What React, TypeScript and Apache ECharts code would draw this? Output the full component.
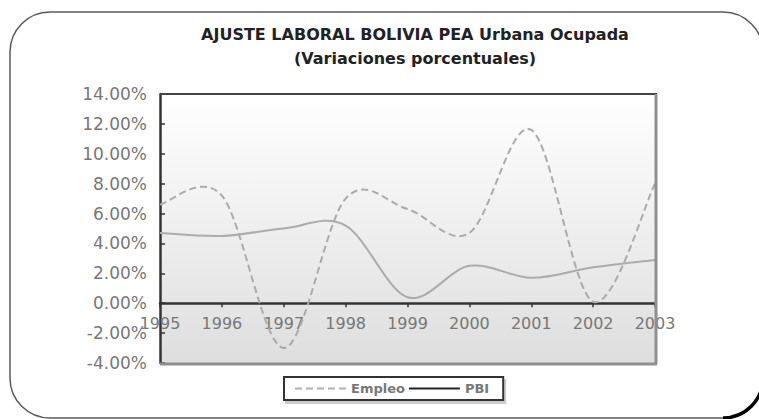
import React, { useEffect, useRef } from 'react';
import * as echarts from 'echarts';

const years = ['1995', '1996', '1997', '1998', '1999', '2000', '2001', '2002', '2003'];
const empleo = [6.6, 7.2, -3.0, 7.0, 6.3, 4.7, 11.6, 0.1, 8.0];
const pbi = [4.7, 4.5, 5.0, 5.2, 0.4, 2.5, 1.7, 2.4, 2.9];
const seriesNames = ['Empleo', 'PBI'];
const titleLines = ['AJUSTE LABORAL BOLIVIA PEA Urbana Ocupada', '(Variaciones porcentuales)'];
const yMin = -4;
const yMax = 14;
const yStep = 2;

const W = 759;
const H = 419;
const GL = 160;
const GT = 94;
const GR = 655;
const GB = 363;

// Excel-like smoothed line (Catmull-Rom as cubic Bezier) through screen points
function smoothPath(pts: number[][]): string {
  const n = pts.length;
  let d = `M${pts[0][0]},${pts[0][1]}`;
  for (let i = 0; i < n - 1; i++) {
    const p0 = pts[Math.max(i - 1, 0)];
    const p1 = pts[i];
    const p2 = pts[i + 1];
    const p3 = pts[Math.min(i + 2, n - 1)];
    const c1x = p1[0] + (p2[0] - p0[0]) / 6;
    const c1y = p1[1] + (p2[1] - p0[1]) / 6;
    const c2x = p2[0] - (p3[0] - p1[0]) / 6;
    const c2y = p2[1] - (p3[1] - p1[1]) / 6;
    d += ` C${c1x},${c1y} ${c2x},${c2y} ${p2[0]},${p2[1]}`;
  }
  return d;
}

function curveSeries(name: string, values: number[], lineStyle: any, z: number) {
  return {
    name,
    type: 'custom',
    data: values.map((v, i) => [i, v]),
    encode: { x: 0, y: 1 },
    z,
    renderItem: (params: any, api: any) => {
      if (params.dataIndex !== 0) return null;
      const pts = values.map((v, i) => api.coord([i, v]));
      return {
        type: 'path',
        shape: { pathData: smoothPath(pts) },
        style: { fill: 'none', ...lineStyle },
      };
    },
  };
}

export default function App() {
  const ref = useRef<HTMLDivElement>(null);

  useEffect(() => {
    if (!ref.current) return;
    document.body.style.margin = '0';
    const chart = echarts.init(ref.current, undefined, { renderer: 'svg' });
    const font = 'DejaVu Sans';
    const zeroY = GT + ((yMax - 0) / (yMax - yMin)) * (GB - GT);
    const option: any = {
      animation: false,
      backgroundColor: '#ffffff',
      title: [
        {
          text: titleLines[0],
          left: 415,
          top: 26,
          textAlign: 'center',
          padding: 0,
          textStyle: { fontFamily: font, fontWeight: 'bold', fontSize: 16, color: '#222' },
        },
        {
          text: titleLines[1],
          left: 415,
          top: 50,
          textAlign: 'center',
          padding: 0,
          textStyle: { fontFamily: font, fontWeight: 'bold', fontSize: 16, color: '#222' },
        },
      ],
      grid: {
        left: GL,
        top: GT,
        right: W - GR,
        bottom: H - GB,
        show: true,
        borderWidth: 0,
        backgroundColor: new echarts.graphic.LinearGradient(0, 0, 0, 1, [
          { offset: 0, color: '#ffffff' },
          { offset: 1, color: '#dedede' },
        ]),
      },
      legend: {
        left: 284,
        top: 377,
        orient: 'horizontal',
        itemWidth: 51,
        itemHeight: 14,
        itemGap: 3,
        padding: [5, 14, 5, 10],
        borderColor: '#333',
        borderWidth: 2,
        borderRadius: 0,
        backgroundColor: '#ffffff',
        shadowColor: 'rgba(0,0,0,0.2)',
        shadowOffsetX: 2,
        shadowOffsetY: 3,
        shadowBlur: 0,
        itemStyle: { opacity: 0 },
        textStyle: { color: '#777', fontWeight: 'bold', fontFamily: font, fontSize: 13 },
        data: [
          { name: seriesNames[0], lineStyle: { color: '#b0b0b0', width: 2, type: [7, 4], opacity: 1 } },
          { name: seriesNames[1], lineStyle: { color: '#222', width: 2, opacity: 1 } },
        ],
      },
      xAxis: {
        type: 'category',
        data: years,
        boundaryGap: false,
        position: 'bottom',
        offset: -(GB - zeroY),
        axisLine: { show: true, onZero: false, lineStyle: { color: '#333', width: 2.5 } },
        axisTick: { show: true, length: 4, lineStyle: { color: '#333', width: 1.5 } },
        axisLabel: { interval: 0, margin: 12, color: '#777', fontFamily: font, fontSize: 16 },
        splitLine: { show: false },
      },
      yAxis: {
        type: 'value',
        min: yMin,
        max: yMax,
        interval: yStep,
        axisLine: { show: true, lineStyle: { color: '#333', width: 2.5 } },
        axisTick: { show: true, inside: true, length: 5, lineStyle: { color: '#333', width: 1.5 } },
        axisLabel: {
          margin: 13,
          color: '#777',
          fontFamily: font,
          fontSize: 17,
          formatter: (v: number) => v.toFixed(2) + '%',
        },
        splitLine: { show: false },
      },
      series: [
        // legend carriers (no data drawn)
        {
          name: seriesNames[0],
          type: 'line',
          data: [],
          symbol: 'none',
          lineStyle: { color: '#b0b0b0', width: 2, type: [7, 4] },
        },
        {
          name: seriesNames[1],
          type: 'line',
          data: [],
          symbol: 'none',
          lineStyle: { color: '#222', width: 2 },
        },
        curveSeries(seriesNames[1], pbi, { stroke: '#acacac', lineWidth: 2 }, 2),
        curveSeries(seriesNames[0], empleo, { stroke: '#ababab', lineWidth: 2, lineDash: [7, 4] }, 3),
      ],
      graphic: [
        {
          type: 'rect',
          z: 100,
          silent: true,
          shape: { x: 10, y: 12, width: 753, height: 406, r: 40 },
          style: { fill: 'none', stroke: '#5a5a5a', lineWidth: 1.5 },
        },
        {
          type: 'arc',
          z: 100,
          silent: true,
          shape: { cx: 723, cy: 378, r: 40, startAngle: 0, endAngle: Math.PI / 2 },
          style: { fill: 'none', stroke: '#000', lineWidth: 3.5 },
        },
        {
          type: 'line',
          z: 100,
          silent: true,
          shape: { x1: GL, y1: GT, x2: GR + 2, y2: GT },
          style: { stroke: '#444', lineWidth: 2 },
        },
        {
          type: 'line',
          z: 100,
          silent: true,
          shape: { x1: GR + 1, y1: GT, x2: GR + 1, y2: GB + 1 },
          style: { stroke: '#8f8f8f', lineWidth: 3 },
        },
        {
          type: 'line',
          z: 100,
          silent: true,
          shape: { x1: GL, y1: GB + 1, x2: GR + 2, y2: GB + 1 },
          style: { stroke: '#8f8f8f', lineWidth: 3 },
        },
      ],
    };
    chart.setOption(option);
    return () => chart.dispose();
  }, []);

  return (
    <div
      ref={ref}
      style={{ width: W, height: H, position: 'fixed', left: 0, top: 0, background: '#fff' }}
    />
  );
}
